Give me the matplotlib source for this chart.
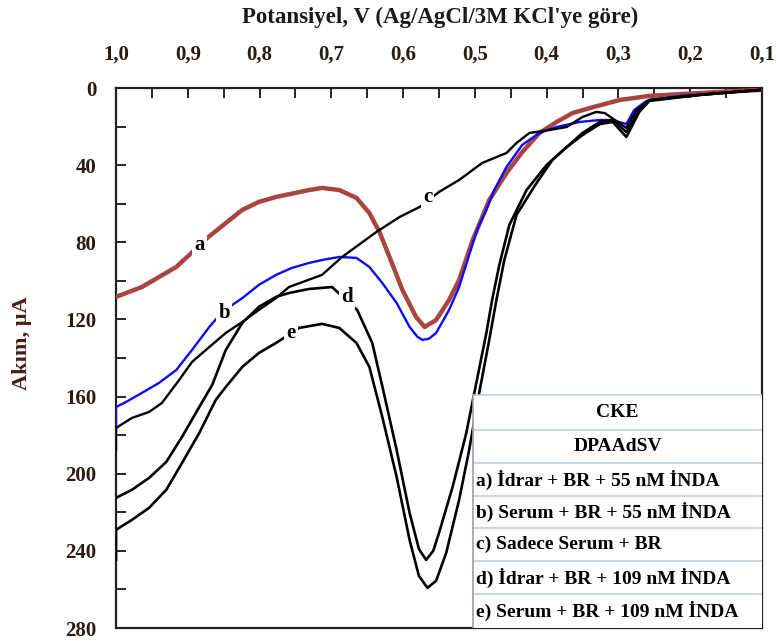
import matplotlib
matplotlib.use("Agg")
import matplotlib.pyplot as plt
from matplotlib.ticker import MultipleLocator, FuncFormatter

# ---------------- data ----------------
a_v = [1.0, 0.964, 0.916, 0.898, 0.873, 0.847, 0.824, 0.801, 0.777, 0.731, 0.713, 0.689,
       0.665, 0.647, 0.633, 0.619, 0.601, 0.582, 0.570, 0.554, 0.536, 0.522, 0.503, 0.480,
       0.456, 0.434, 0.410, 0.386, 0.364, 0.340, 0.298, 0.257, 0.187, 0.103]
a_i = [108.3, 103.2, 92.8, 86.6, 77.8, 70.0, 63.2, 59.1, 56.5, 52.9, 51.8, 52.9,
       57.0, 64.8, 74.6, 87.6, 104.7, 118.7, 123.9, 120.3, 109.9, 99.5, 78.8, 58.1,
       44.1, 33.2, 23.3, 17.6, 13.0, 10.4, 6.2, 4.1, 2.6, 1.0]

b_v = [1.0, 1.0, 0.986, 0.964, 0.940, 0.916, 0.894, 0.870, 0.852, 0.824, 0.801, 0.777,
       0.755, 0.731, 0.713, 0.689, 0.665, 0.647, 0.629, 0.609, 0.591, 0.580, 0.573, 0.564,
       0.554, 0.536, 0.522, 0.508, 0.497, 0.484, 0.473, 0.456, 0.434, 0.410, 0.386, 0.354,
       0.326, 0.308, 0.289, 0.278, 0.261, 0.215, 0.159, 0.103]
b_i = [175.7, 165.4, 162.8, 158.1, 152.9, 146.2, 135.8, 123.9, 116.1, 108.9, 102.1, 96.9,
       93.3, 90.7, 89.2, 87.6, 88.1, 92.8, 101.1, 111.5, 123.9, 129.0, 130.6, 130.0,
       127.0, 115.1, 103.2, 86.6, 73.6, 63.2, 52.9, 41.0, 29.5, 23.3, 20.2, 17.6,
       16.6, 16.6, 18.7, 11.4, 6.7, 4.1, 2.6, 1.0]

c_v = [1.0, 1.0, 0.978, 0.954, 0.936, 0.912, 0.894, 0.870, 0.847, 0.824, 0.801, 0.777,
       0.759, 0.713, 0.685, 0.637, 0.605, 0.577, 0.550, 0.522, 0.490, 0.456, 0.442,
       0.424, 0.396, 0.372, 0.350, 0.331, 0.319, 0.305, 0.289, 0.275, 0.257, 0.187, 0.103]
c_i = [187.7, 176.3, 171.1, 168.0, 163.3, 151.4, 142.0, 134.3, 127.0, 121.3, 115.1, 108.9,
       103.2, 96.9, 87.6, 74.6, 66.9, 61.7, 53.9, 47.7, 38.9, 33.7, 28.5,
       23.3, 21.8, 20.2, 15.0, 12.4, 13.0, 16.6, 20.7, 11.4, 6.2, 3.6, 1.0]

d_v = [1.0, 0.978, 0.954, 0.930, 0.908, 0.884, 0.866, 0.847, 0.824, 0.801, 0.777, 0.759,
       0.731, 0.699, 0.664, 0.643, 0.629, 0.609, 0.591, 0.578, 0.568, 0.558, 0.550, 0.531,
       0.512, 0.498, 0.484, 0.476, 0.466, 0.452, 0.428, 0.400, 0.372, 0.350, 0.326, 0.308,
       0.289, 0.271, 0.257, 0.187, 0.103]
d_i = [212.5, 208.4, 202.2, 193.9, 180.9, 165.4, 154.0, 135.8, 121.8, 113.5, 108.3, 106.3,
       104.2, 103.2, 115.1, 132.2, 154.6, 187.7, 220.3, 239.0, 244.7, 240.0, 230.7, 206.8,
       178.9, 152.9, 127.0, 109.9, 91.8, 71.0, 52.9, 39.9, 30.6, 23.3, 17.6, 16.6,
       22.8, 11.4, 6.2, 3.6, 1.0]

e_v = [1.0, 1.0, 0.978, 0.954, 0.930, 0.908, 0.884, 0.861, 0.847, 0.824, 0.801, 0.777,
       0.745, 0.713, 0.689, 0.665, 0.647, 0.629, 0.609, 0.591, 0.578, 0.566, 0.554, 0.540,
       0.522, 0.508, 0.494, 0.480, 0.470, 0.459, 0.442, 0.414, 0.392, 0.372, 0.350, 0.326,
       0.308, 0.289, 0.271, 0.257, 0.187, 0.103]
e_i = [244.7, 229.1, 224.0, 217.7, 208.4, 194.4, 178.9, 161.7, 155.0, 144.6, 137.4, 132.2,
       124.4, 122.3, 124.4, 132.2, 144.6, 170.6, 201.7, 234.3, 253.0, 259.2, 255.5, 241.1,
       213.6, 187.7, 158.1, 130.6, 109.9, 89.2, 65.8, 49.2, 37.3, 30.6, 24.4, 18.7,
       17.6, 25.4, 12.4, 6.7, 3.6, 1.0]

curve_labels = ["a", "b", "c", "d", "e"]
label_v = [0.884, 0.849, 0.566, 0.678, 0.756]
label_i = [81.4, 116.6, 56.5, 108.3, 127.0]

legend_rows = ["CKE", "DPAAdSV",
               "a) İdrar + BR + 55 nM İNDA",
               "b) Serum + BR + 55 nM İNDA",
               "c) Sadece Serum + BR",
               "d) İdrar + BR + 109 nM İNDA",
               "e) Serum + BR + 109 nM İNDA"]

x_title = "Potansiyel, V (Ag/AgCl/3M KCl'ye göre)"
y_title = "Akım, µA"

# ---------------- figure ----------------
W, H = 776, 641
fig = plt.figure(figsize=(W / 100, H / 100), dpi=100)
serif = ["Liberation Serif", "DejaVu Serif"]
plt.rcParams["font.family"] = serif

L, R, T, B = 116, 762, 88, 628
ax = fig.add_axes([L / W, 1 - B / H, (R - L) / W, (B - T) / H])

brown = "#a8453f"
ax.plot(a_v, a_i, color=brown, lw=3.2, zorder=3, solid_capstyle="round", solid_joinstyle="round")
ax.plot(b_v, b_i, color="#0a0aff", lw=1.7, zorder=3, solid_joinstyle="round")
ax.plot(c_v, c_i, color="black", lw=1.7, zorder=3, solid_joinstyle="round")
ax.plot(d_v, d_i, color="black", lw=1.9, zorder=3, solid_joinstyle="round")
ax.plot(e_v, e_i, color="black", lw=1.9, zorder=3, solid_joinstyle="round")

for lab, lv, li in zip(curve_labels, label_v, label_i):
    ax.text(lv, li, lab, fontsize=15, fontweight="bold", ha="center", va="center",
            zorder=4, bbox=dict(facecolor="white", edgecolor="none", pad=1.5))

ax.set_xlim(1.0, 0.1)
ax.set_ylim(280, 0)

ax.xaxis.tick_top()
ax.xaxis.set_major_locator(MultipleLocator(0.1))
ax.xaxis.set_minor_locator(MultipleLocator(0.05))
ax.yaxis.set_major_locator(MultipleLocator(40))
ax.yaxis.set_minor_locator(MultipleLocator(20))
ax.xaxis.set_major_formatter(FuncFormatter(lambda v, p: f"{v:.1f}".replace(".", ",")))
ax.yaxis.set_major_formatter(FuncFormatter(lambda v, p: f"{v:.0f}"))

tick_col = "#2a1a14"
ax.tick_params(axis="x", which="both", direction="in", top=True, bottom=False,
               labeltop=True, labelbottom=False, length=7, width=1.2, pad=17,
               labelsize=15, labelcolor=tick_col)
ax.tick_params(axis="y", which="both", direction="in", left=True, right=False,
               length=7, width=1.2, pad=14, labelsize=15, labelcolor=tick_col)
for t in ax.get_xticklabels() + ax.get_yticklabels():
    t.set_fontweight("bold")
for s in ax.spines.values():
    s.set_linewidth(1.6)
    s.set_color("#222222")

fig.text(440 / W, 1 - 17 / H, x_title, ha="center", va="center", fontsize=16.5,
         fontweight="bold", color="#1a1a1a")
fig.text(22 / W, 1 - 343 / H, y_title, ha="center", va="center", rotation=90,
         fontsize=16, fontweight="bold", color="#4a1e14")

# ---------------- legend table ----------------
row_px = [395, 430, 463, 496, 528, 561, 594, 628]
def fy(p):
    return 1 - (p - T) / (B - T)
x0 = (473 - L) / (R - L)
ax.add_patch(plt.Rectangle((x0, 0), 1 - x0, fy(row_px[0]), transform=ax.transAxes,
                           facecolor="white", edgecolor="none", zorder=5))
grid_col = "#c5cde0"
for p in row_px[:-1]:
    ax.plot([x0, 1], [fy(p), fy(p)], transform=ax.transAxes, color=grid_col, lw=1.2, zorder=6)
ax.plot([x0, x0], [0, fy(row_px[0])], transform=ax.transAxes, color="#9aa0aa", lw=1.2, zorder=6)
for k, txt in enumerate(legend_rows):
    ymid = fy((row_px[k] + row_px[k + 1]) / 2)
    if k < 2:
        ax.text((x0 + 1) / 2, ymid, txt, transform=ax.transAxes, ha="center", va="center",
                fontsize=14, fontweight="bold", zorder=7)
    else:
        ax.text(x0 + 0.005, ymid, txt, transform=ax.transAxes, ha="left", va="center",
                fontsize=14, fontweight="bold", zorder=7)

fig.savefig("out.png", dpi=100)
